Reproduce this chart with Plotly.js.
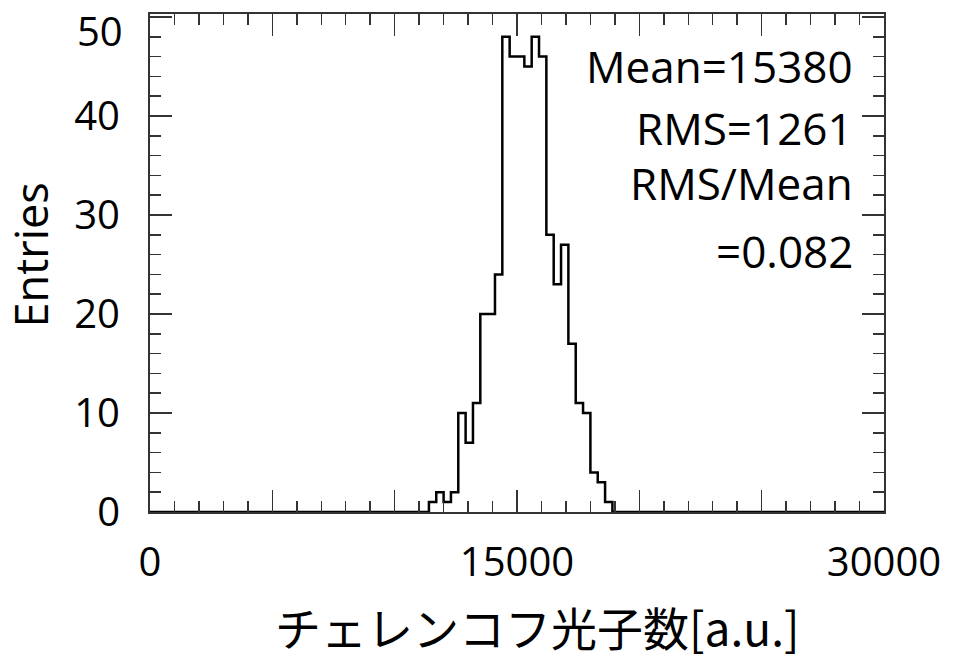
<!DOCTYPE html>
<html>
<head>
<meta charset="utf-8">
<script src="https://cdn.plot.ly/plotly-3.0.1.min.js"></script>
<style>
html,body{margin:0;padding:0;background:#fff;}
#chart{width:958px;height:658px;}
</style>
</head>
<body>
<div id="chart"></div>
<script>
// ---- data ----
const binWidth = 300;            // histogram bin width [a.u.]
const xMin = 0, xMax = 30000;    // histogram range
const firstFilledBinLow = 11400; // low edge of first non-empty bin
const counts = [1, 2, 1, 2, 10, 7, 11, 20, 20, 24,
                48, 46, 46, 45, 48, 46, 28, 23, 27, 17,
                11, 10, 4, 3, 1];
const xTickVals = [0, 5000, 10000, 15000, 20000, 25000, 30000];
const xTickText = ['0', '', '', '15000', '', '', '30000'];
const yTickVals = [0, 10, 20, 30, 40, 50];
const yTickText = ['0', '10', '20', '30', '40', ''];
const yTopLabel = '50';   // drawn slightly below its tick, as in the reference
const statLines = ['Mean=15380', 'RMS=1261', 'RMS/Mean', '=0.082'];
const xTitle = 'チェレンコフ光子数[a.u.]';
const yTitle = 'Entries';

// ---- build the full histogram (all bins) ----
const nBins = Math.round((xMax - xMin) / binWidth);
const full = new Array(nBins).fill(0);
const offset = Math.round((firstFilledBinLow - xMin) / binWidth);
counts.forEach((c, i) => { full[offset + i] = c; });
const edges = [], ys = [];
for (let i = 0; i <= nBins; i++) {
  edges.push(xMin + i * binWidth);
  ys.push(i < nBins ? full[i] : full[nBins - 1]);
}

const latin = 'Open Sans, Noto Sans, sans-serif';
const axisColor = '#333333';

const trace = {
  type: 'scatter', mode: 'lines',
  x: edges, y: ys,
  line: {shape: 'hv', color: '#000000', width: 2.5},
  hoverinfo: 'skip', showlegend: false
};

const statY = [0.896, 0.771, 0.661, 0.524];
const annotations = statLines.map((t, i) => ({
  text: t, xref: 'paper', yref: 'paper',
  x: 0.9605, y: statY[i], xanchor: 'right', yanchor: 'middle',
  showarrow: false, font: {family: latin, size: 44, color: '#000'}
}));
annotations.push({
  text: yTopLabel, xref: 'paper', yref: 'paper', x: -0.034, y: 0.966,
  xanchor: 'right', yanchor: 'middle', showarrow: false,
  font: {family: latin, size: 40, color: '#000'}
});
annotations.push({
  text: xTitle, xref: 'paper', yref: 'paper', x: 0.5286, y: -0.2289,
  xanchor: 'center', yanchor: 'middle', showarrow: false,
  font: {family: 'Noto Sans CJK JP, ' + latin, size: 46, color: '#000'}
});
annotations.push({
  text: yTitle, xref: 'paper', yref: 'paper', x: -0.163, y: 0.516,
  xanchor: 'center', yanchor: 'middle', textangle: -90, showarrow: false,
  font: {family: latin, size: 45, color: '#000'}
});

const layout = {
  width: 958, height: 658,
  margin: {l: 150, r: 74, t: 14, b: 146, pad: 0},
  paper_bgcolor: '#fff', plot_bgcolor: '#fff',
  font: {family: latin, color: '#000'},
  xaxis: {
    range: [xMin, xMax], tickmode: 'array', tickvals: xTickVals, ticktext: xTickText,
    ticks: 'inside', ticklen: 22, tickwidth: 1.5, tickcolor: axisColor,
    minor: {dtick: 1000, tick0: 0, ticks: 'inside', ticklen: 11, tickwidth: 1.5, tickcolor: axisColor, showgrid: false},
    showline: true, linecolor: axisColor, linewidth: 2, mirror: 'ticks',
    showgrid: false, zeroline: false, ticklabelstandoff: 14, ticklabeloverflow: 'allow',
    tickfont: {family: latin, size: 40, color: '#000'}
  },
  yaxis: {
    range: [0, 50.3], tickmode: 'array', tickvals: yTickVals, ticktext: yTickText,
    ticks: 'inside', ticklen: 22, tickwidth: 1.5, tickcolor: axisColor,
    minor: {dtick: 2, tick0: 0, ticks: 'inside', ticklen: 11, tickwidth: 1.5, tickcolor: axisColor, showgrid: false},
    showline: true, linecolor: axisColor, linewidth: 2, mirror: 'ticks',
    showgrid: false, zeroline: false, ticklabelstandoff: 20, ticklabeloverflow: 'allow',
    tickfont: {family: latin, size: 40, color: '#000'}
  },
  annotations: annotations
};

Plotly.newPlot('chart', [trace], layout, {staticPlot: true, displayModeBar: false});
</script>
</body>
</html>
